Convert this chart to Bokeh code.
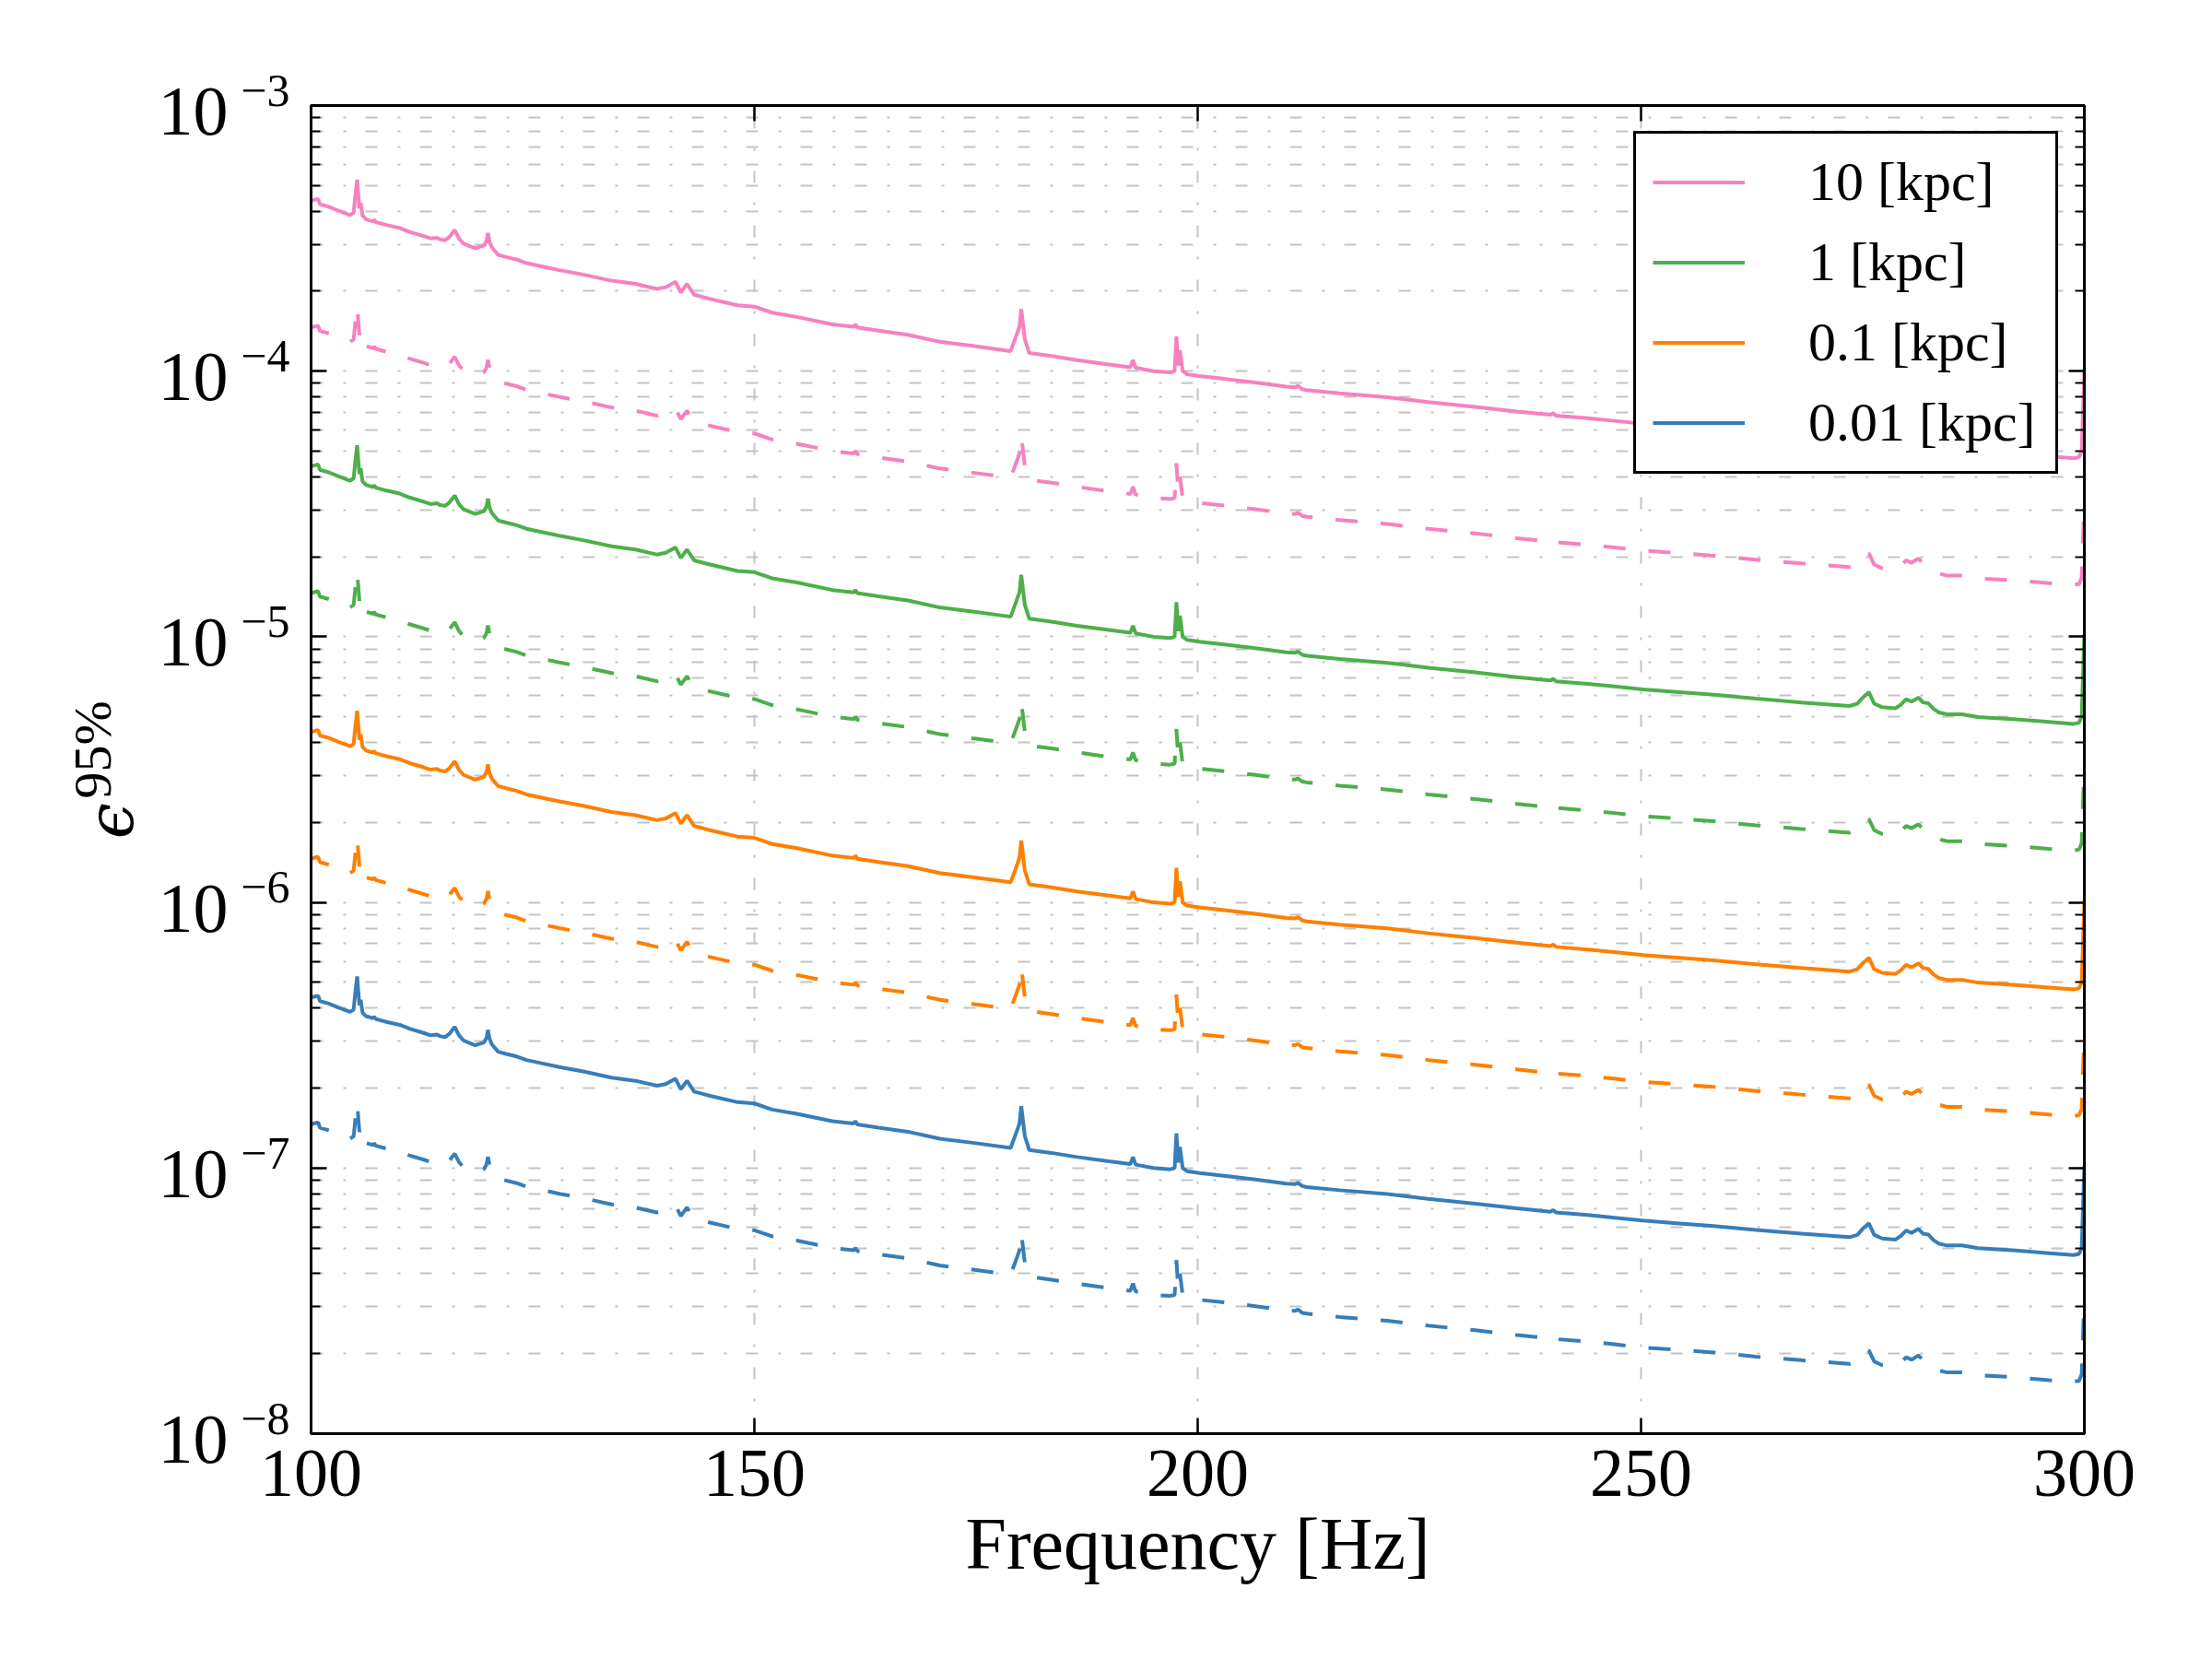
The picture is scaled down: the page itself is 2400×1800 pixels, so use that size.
import math
from bokeh.plotting import figure
from bokeh.models import (Range1d, FixedTicker, LinearAxis, LogAxis,
                          CustomJSTickFormatter, Legend, LegendItem)
from bokeh.embed import file_html
from bokeh.resources import INLINE

# ---------------- data ----------------
freq_hz = [
    100.0, 100.5, 100.8, 101.0, 102.0, 103.0, 104.4, 104.8, 105.0, 105.2,
    105.45, 105.6, 105.8, 106.2, 107.0, 107.1, 107.3, 108.5, 110.0, 111.1,
    112.7, 113.5, 114.2, 114.5, 115.1, 115.6, 116.2, 116.7, 117.2, 118.5,
    119.5, 119.8, 119.95, 120.15, 120.4, 121.1, 122.0, 123.2, 124.3, 126.0,
    128.0, 130.7, 133.9, 136.6, 139.0, 140.0, 141.1, 141.7, 142.4, 143.2,
    145.0, 148.1, 150.0, 152.0, 154.8, 158.8, 161.2, 161.4, 161.6, 164.0,
    167.3, 170.9, 175.0, 178.9, 179.4, 179.9, 180.1, 180.5, 181.0, 183.5,
    186.4, 190.0, 192.4, 192.7, 193.0, 195.0, 196.9, 197.4, 197.6, 197.8,
    198.0, 198.3, 198.8, 200.2, 203.0, 206.5, 210.0, 211.0, 211.3, 211.8,
    212.3, 216.0, 221.4, 226.0, 231.3, 236.0, 239.8, 240.1, 240.4, 244.0,
    247.0, 250.2, 254.0, 258.2, 263.0, 268.1, 273.5, 274.4, 275.0, 275.7,
    276.3, 277.2, 278.7, 279.3, 279.9, 280.5, 281.3, 281.8, 282.4, 283.0,
    283.6, 284.5, 286.2, 288.0, 292.3, 296.0, 298.8, 299.4, 299.7, 300.0,
]

# epsilon^95% at 10 kpc, solid curves
eps_solid_10kpc = [
    4.38e-4, 4.43e-4, 4.45e-4, 4.25e-4, 4.16e-4, 4.03e-4, 3.87e-4, 3.95e-4, 4.60e-4, 5.26e-4,
    4.10e-4, 4.30e-4, 3.85e-4, 3.73e-4, 3.66e-4, 3.72e-4, 3.64e-4, 3.55e-4, 3.46e-4, 3.345e-4,
    3.225e-4, 3.16e-4, 3.18e-4, 3.14e-4, 3.11e-4, 3.20e-4, 3.40e-4, 3.15e-4, 3.02e-4, 2.90e-4,
    2.97e-4, 3.10e-4, 3.31e-4, 3.05e-4, 2.92e-4, 2.74e-4, 2.69e-4, 2.63e-4, 2.55e-4, 2.48e-4,
    2.40e-4, 2.31e-4, 2.19e-4, 2.13e-4, 2.04e-4, 2.07e-4, 2.17e-4, 1.98e-4, 2.13e-4, 1.94e-4,
    1.87e-4, 1.77e-4, 1.75e-4, 1.66e-4, 1.60e-4, 1.50e-4, 1.47e-4, 1.50e-4, 1.46e-4, 1.42e-4,
    1.37e-4, 1.29e-4, 1.24e-4, 1.19e-4, 1.32e-4, 1.47e-4, 1.71e-4, 1.32e-4, 1.17e-4, 1.14e-4,
    1.10e-4, 1.06e-4, 1.035e-4, 1.10e-4, 1.03e-4, 1.00e-4, 9.89e-5, 1.00e-4, 1.35e-4, 1.05e-4,
    1.20e-4, 1.00e-4, 9.73e-5, 9.58e-5, 9.35e-5, 9.06e-5, 8.74e-5, 8.70e-5, 8.80e-5, 8.55e-5,
    8.48e-5, 8.25e-5, 7.98e-5, 7.65e-5, 7.34e-5, 7.05e-5, 6.85e-5, 6.95e-5, 6.80e-5, 6.65e-5,
    6.50e-5, 6.34e-5, 6.20e-5, 6.05e-5, 5.85e-5, 5.66e-5, 5.49e-5, 5.60e-5, 5.90e-5, 6.19e-5,
    5.60e-5, 5.43e-5, 5.38e-5, 5.55e-5, 5.82e-5, 5.70e-5, 5.90e-5, 5.66e-5, 5.62e-5, 5.35e-5,
    5.19e-5, 5.11e-5, 5.11e-5, 4.99e-5, 4.89e-5, 4.78e-5, 4.70e-5, 4.75e-5, 5.00e-5, 1.02e-4,
]

# epsilon^95% at 10 kpc, dashed curves
eps_dashed_10kpc = [
    1.460e-4, 1.477e-4, 1.483e-4, 1.417e-4, 1.387e-4, 1.343e-4, 1.290e-4, 1.317e-4, 1.533e-4, 1.753e-4,
    1.367e-4, 1.433e-4, 1.283e-4, 1.243e-4, 1.220e-4, 1.240e-4, 1.213e-4, 1.183e-4, 1.153e-4, 1.115e-4,
    1.075e-4, 1.053e-4, 1.060e-4, 1.047e-4, 1.037e-4, 1.067e-4, 1.133e-4, 1.050e-4, 1.007e-4, 9.67e-5,
    9.90e-5, 1.033e-4, 1.103e-4, 1.017e-4, 9.73e-5, 9.13e-5, 8.97e-5, 8.77e-5, 8.50e-5, 8.27e-5,
    8.00e-5, 7.70e-5, 7.30e-5, 7.10e-5, 6.80e-5, 6.90e-5, 7.23e-5, 6.60e-5, 7.10e-5, 6.47e-5,
    6.23e-5, 5.90e-5, 5.83e-5, 5.53e-5, 5.33e-5, 5.00e-5, 4.90e-5, 5.00e-5, 4.87e-5, 4.73e-5,
    4.57e-5, 4.30e-5, 4.13e-5, 3.97e-5, 4.40e-5, 4.90e-5, 5.70e-5, 4.40e-5, 3.90e-5, 3.80e-5,
    3.67e-5, 3.53e-5, 3.45e-5, 3.67e-5, 3.43e-5, 3.33e-5, 3.30e-5, 3.33e-5, 4.50e-5, 3.50e-5,
    4.00e-5, 3.33e-5, 3.24e-5, 3.19e-5, 3.12e-5, 3.02e-5, 2.91e-5, 2.90e-5, 2.93e-5, 2.85e-5,
    2.83e-5, 2.75e-5, 2.66e-5, 2.55e-5, 2.45e-5, 2.35e-5, 2.28e-5, 2.32e-5, 2.27e-5, 2.22e-5,
    2.17e-5, 2.11e-5, 2.07e-5, 2.02e-5, 1.95e-5, 1.89e-5, 1.83e-5, 1.87e-5, 1.97e-5, 2.06e-5,
    1.87e-5, 1.81e-5, 1.79e-5, 1.85e-5, 1.94e-5, 1.90e-5, 1.97e-5, 1.89e-5, 1.87e-5, 1.78e-5,
    1.73e-5, 1.70e-5, 1.70e-5, 1.66e-5, 1.63e-5, 1.59e-5, 1.57e-5, 1.58e-5, 1.67e-5, 3.30e-5,
]

distances_kpc = [10, 1, 0.1, 0.01]
series_labels = ["10 [kpc]", "1 [kpc]", "0.1 [kpc]", "0.01 [kpc]"]
series_colors = ["#f781bf", "#4daf4a", "#ff7f00", "#377eb8"]

x_tick_values = [100, 150, 200, 250, 300]
y_tick_exponents = [-3, -4, -5, -6, -7, -8]
y_tick_base = "10"
y_tick_superscripts = ["\u22123", "\u22124", "\u22125", "\u22126", "\u22127", "\u22128"]
x_label = "Frequency [Hz]"
y_label_symbol = "\u03f5"
y_label_superscript = "95%"

SERIF = "Liberation Serif"
GRID_COLOR = "#c4c4c4"
GRID_DASH = "13 22 3 21"
NBSP = "\u00a0"

# ---------------- figure ----------------
p = figure(width=2380, height=1776,
           x_range=Range1d(100, 300), y_range=Range1d(1e-8, 1e-3),
           y_axis_type="log", output_backend="svg", toolbar_location=None,
           min_border_left=337, min_border_right=119,
           min_border_top=114, min_border_bottom=221)
p.background_fill_color = "white"
p.border_fill_color = "white"
p.outline_line_color = "black"
p.outline_line_width = 3

y_major = [10.0 ** e for e in range(-8, -2)]
y_minor = [m * 10.0 ** e for e in range(-8, -3) for m in range(2, 10)]
x_ticker = FixedTicker(ticks=x_tick_values, minor_ticks=[])
y_ticker = FixedTicker(ticks=y_major, minor_ticks=y_minor)
no_ticker = FixedTicker(ticks=[], minor_ticks=[])

empty_fmt = CustomJSTickFormatter(code="return ''")
sup_fmt = CustomJSTickFormatter(
    args=dict(exps=y_tick_exponents, labels=y_tick_superscripts),
    code="const e = Math.round(Math.log10(tick)); const i = exps.indexOf(e); "
         "return (i >= 0 ? labels[i] : '') + '\\n';")
base_fmt = CustomJSTickFormatter(
    args=dict(base=y_tick_base),
    code="return '\\n' + base;")

main_x = p.xaxis[0]
main_y = p.yaxis[0]
main_x.ticker = x_ticker
main_y.ticker = y_ticker
top_axis = LinearAxis(ticker=x_ticker, formatter=empty_fmt)
right_axis = LogAxis(ticker=y_ticker, formatter=empty_fmt)
p.add_layout(top_axis, "above")
p.add_layout(right_axis, "right")

for ax in [main_x, main_y, top_axis, right_axis]:
    ax.axis_line_width = 3
    ax.axis_line_color = "black"
    ax.major_tick_in = 17
    ax.major_tick_out = 0
    ax.minor_tick_in = 10
    ax.minor_tick_out = 0
    ax.major_tick_line_width = 2.5
    ax.minor_tick_line_width = 2
    ax.major_tick_line_color = "black"
    ax.minor_tick_line_color = "black"
for ax in [main_x, top_axis]:
    ax.minor_tick_line_color = None
for ax in [top_axis, right_axis]:
    ax.major_label_text_font_size = "1px"
    ax.major_label_standoff = 0

# bottom axis: tick labels and axis label
main_x.major_label_text_font = SERIF
main_x.major_label_text_font_size = "74px"
main_x.major_label_text_color = "black"
main_x.major_label_standoff = 18
main_x.axis_label = x_label
main_x.axis_label_text_font = SERIF
main_x.axis_label_text_font_size = "80px"
main_x.axis_label_text_font_style = "normal"
main_x.axis_label_text_color = "black"
main_x.axis_label_standoff = 5

# left axis (ticks + exponent part of tick labels)
main_y.formatter = sup_fmt
main_y.major_label_text_font = SERIF
main_y.major_label_text_font_size = "50px"
main_y.major_label_text_color = "black"
main_y.major_label_text_line_height = 0.6
main_y.major_label_standoff = 23

# outer left axis carrying the "10" base of the tick labels
base_axis = LogAxis(ticker=y_ticker, formatter=base_fmt,
                    axis_line_color=None, major_tick_line_color=None,
                    minor_tick_line_color=None, major_tick_in=0, major_tick_out=0,
                    minor_tick_in=0, minor_tick_out=0,
                    major_label_standoff=11, major_label_text_font=SERIF,
                    major_label_text_font_size="76px", major_label_text_color="black",
                    major_label_text_line_height=0.13)
p.add_layout(base_axis, "left")

# y axis label: epsilon with superscript 95%
eps_axis = LogAxis(ticker=no_ticker, formatter=empty_fmt,
                   axis_line_color=None, major_tick_line_color=None,
                   minor_tick_line_color=None, major_tick_in=0, major_tick_out=0,
                   minor_tick_in=0, minor_tick_out=0, major_label_standoff=0,
                   major_label_text_font_size="1px",
                   axis_label=y_label_symbol + NBSP * 5, axis_label_standoff=8,
                   axis_label_text_font="DejaVu Serif",
                   axis_label_text_font_style="italic",
                   axis_label_text_font_size="70px", axis_label_text_color="black")
p.add_layout(eps_axis, "left")
sup_axis = LogAxis(ticker=no_ticker, formatter=empty_fmt,
                   axis_line_color=None, major_tick_line_color=None,
                   minor_tick_line_color=None, major_tick_in=0, major_tick_out=0,
                   minor_tick_in=0, minor_tick_out=0, major_label_standoff=0,
                   major_label_text_font_size="1px",
                   axis_label=NBSP * 3 + y_label_superscript, axis_label_standoff=-57,
                   axis_label_text_font=SERIF,
                   axis_label_text_font_style="normal",
                   axis_label_text_font_size="58px", axis_label_text_color="black")
p.add_layout(sup_axis, "left")

# grid
p.xgrid.ticker = x_ticker
p.ygrid.ticker = y_ticker
p.xgrid.grid_line_color = GRID_COLOR
p.xgrid.grid_line_dash = GRID_DASH
p.xgrid.grid_line_width = 2
p.xgrid.minor_grid_line_color = None
p.ygrid.grid_line_color = GRID_COLOR
p.ygrid.grid_line_dash = GRID_DASH
p.ygrid.grid_line_width = 2
p.ygrid.minor_grid_line_color = GRID_COLOR
p.ygrid.minor_grid_line_dash = GRID_DASH
p.ygrid.minor_grid_line_width = 2

# ---------------- curves ----------------
legend_items = []
for d, lab, col in zip(distances_kpc, series_labels, series_colors):
    scale = d / 10.0
    solid = [v * scale for v in eps_solid_10kpc]
    dashed = [v * scale for v in eps_dashed_10kpc]
    r = p.line(freq_hz, solid, line_color=col, line_width=4)
    p.line(freq_hz, dashed, line_color=col, line_width=4, line_dash="24 25")
    legend_items.append(LegendItem(label=lab, renderers=[r]))

legend = Legend(items=legend_items, location="top_right", margin=28,
                padding=18, spacing=18, glyph_width=100, glyph_height=69,
                label_height=69, label_width=250, label_standoff=69,
                label_text_font=SERIF, label_text_font_size="60px",
                label_text_color="black",
                border_line_color="black", border_line_width=3,
                border_line_alpha=1.0,
                background_fill_color="white", background_fill_alpha=1.0)
p.add_layout(legend)

open("out.html", "w").write(file_html(p, INLINE))
